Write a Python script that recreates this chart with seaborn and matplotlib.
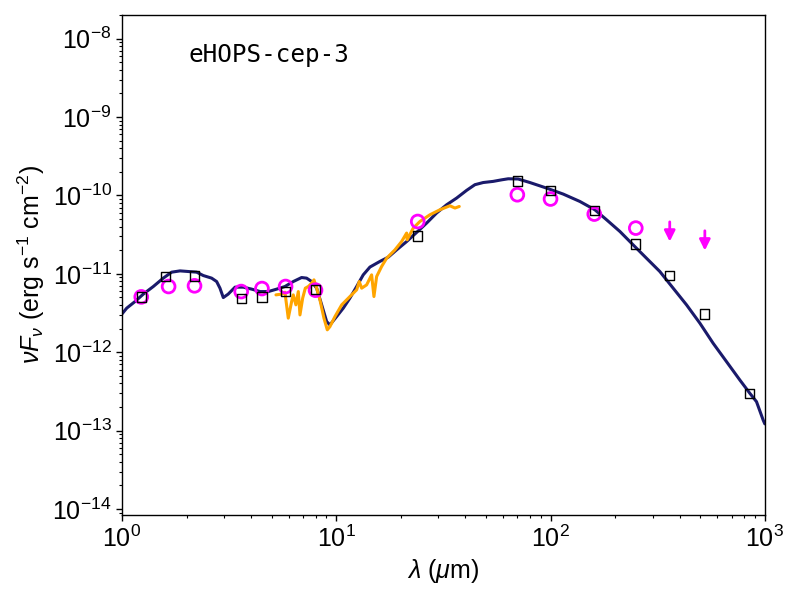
import matplotlib
matplotlib.use("Agg")
import matplotlib.pyplot as plt
import numpy as np
import pandas as pd
import seaborn as sns

# model SED (navy curve)
model_wave = [1.00, 1.052, 1.15, 1.257, 1.40, 1.558, 1.706, 1.865, 2.04, 2.23, 2.395, 2.62, 2.765,
              2.866, 2.97, 3.13, 3.37, 3.68, 4.03, 4.41, 4.82, 5.27, 5.76, 6.30, 6.89, 7.27, 7.68,
              8.10, 8.55, 9.02, 9.34, 10.04, 10.78, 11.58, 12.45, 13.36, 14.36, 15.99, 17.48, 19.13,
              21.30, 23.71, 26.41, 29.39, 32.74, 36.45, 40.58, 44.36, 48.5, 54.0, 59.1, 63.45, 70.6,
              80.1, 95.8, 114.6, 137.1, 161.0, 182.6, 210.7, 243.0, 280.5, 323.7, 373.5, 431.2,
              497.6, 574.1, 662.6, 764.5, 851.0, 914.7, 982.0, 1000.0]
model_flux = [3.08e-12, 3.65e-12, 4.43e-12, 5.51e-12, 6.89e-12, 8.81e-12, 1.05e-11, 1.09e-11,
              1.07e-11, 1.05e-11, 9.51e-12, 8.81e-12, 7.97e-12, 6.56e-12, 4.98e-12, 5.51e-12,
              6.76e-12, 6.76e-12, 6.38e-12, 5.94e-12, 5.94e-12, 6.38e-12, 6.89e-12, 7.97e-12,
              8.97e-12, 8.81e-12, 7.97e-12, 6.56e-12, 4.02e-12, 2.46e-12, 2.23e-12, 2.85e-12,
              3.65e-12, 4.90e-12, 6.89e-12, 9.70e-12, 1.22e-11, 1.44e-11, 1.63e-11, 2.02e-11,
              2.58e-11, 3.37e-11, 4.44e-11, 5.96e-11, 7.60e-11, 9.25e-11, 1.16e-10, 1.37e-10,
              1.46e-10, 1.51e-10, 1.58e-10, 1.63e-10, 1.62e-10, 1.46e-10, 1.24e-10, 1.04e-10,
              8.37e-11, 6.56e-11, 4.89e-11, 3.47e-11, 2.34e-11, 1.58e-11, 1.07e-11, 6.56e-12,
              4.02e-12, 2.35e-12, 1.30e-12, 7.59e-13, 4.43e-13, 3.00e-13, 2.34e-13, 1.37e-13,
              1.22e-13]

# IRS spectrum (orange)
irs_wave = [5.23, 5.56, 5.76, 5.97, 6.19, 6.30, 6.48, 6.65, 6.77, 6.97, 7.17, 7.40, 7.68, 7.87,
            8.10, 8.39, 8.76, 9.08, 9.34, 9.86, 10.6, 11.58, 12.45, 12.8, 13.14, 13.86, 14.62,
            14.99, 15.43, 16.28, 17.18, 18.78, 20.18, 21.3, 21.43, 22.87, 24.57, 27.35, 30.45,
            33.9, 35.8, 37.5]
irs_flux = [5.39e-12, 5.51e-12, 5.83e-12, 2.72e-12, 4.43e-12, 5.39e-12, 4.02e-12, 5.94e-12,
            2.99e-12, 4.90e-12, 6.56e-12, 6.89e-12, 7.60e-12, 8.38e-12, 6.56e-12, 4.66e-12,
            2.72e-12, 1.93e-12, 2.12e-12, 2.85e-12, 4.02e-12, 5.13e-12, 6.25e-12, 7.97e-12,
            6.56e-12, 7.23e-12, 9.70e-12, 5.13e-12, 9.23e-12, 1.24e-11, 1.58e-11, 2.02e-11,
            2.58e-11, 3.31e-11, 2.72e-11, 3.83e-11, 4.65e-11, 5.66e-11, 6.56e-11, 7.38e-11,
            6.90e-11, 7.23e-11]

# observed photometry (magenta circles)
obs_wave = [1.23, 1.65, 2.18, 3.6, 4.5, 5.8, 8.0, 24.0, 70.0, 100.0, 160.0, 250.0]
obs_flux = [5.08e-12, 6.89e-12, 7.03e-12, 5.94e-12, 6.49e-12, 6.89e-12, 6.19e-12, 4.65e-11,
            1.02e-10, 9.0e-11, 5.78e-11, 3.83e-11]

# upper limits (magenta arrows)
lim_wave = [360.0, 525.0]
lim_flux = [4.6e-11, 3.54e-11]

# model fluxes at the photometric bands (black squares)
syn_wave = [1.23, 1.6, 2.18, 3.6, 4.5, 5.8, 8.0, 24.0, 70.0, 100.0, 160.0, 250.0, 360.0, 525.0, 850.0]
syn_flux = [5.04e-12, 9.16e-12, 9.35e-12, 4.84e-12, 5.04e-12, 5.94e-12, 6.3e-12, 3.05e-11,
            1.525e-10, 1.147e-10, 6.37e-11, 2.39e-11, 9.6e-12, 3.08e-12, 3.0e-13]

source_name = "eHOPS-cep-3"

sns.set_style("white")
plt.rcParams["font.family"] = ["Liberation Sans", "DejaVu Sans"]
plt.rcParams["mathtext.fontset"] = "custom"
plt.rcParams["mathtext.rm"] = "Liberation Sans"
plt.rcParams["mathtext.it"] = "Liberation Sans:italic"
plt.rcParams["mathtext.bf"] = "Liberation Sans:bold"
plt.rcParams["text.color"] = "black"
plt.rcParams["axes.labelcolor"] = "black"
plt.rcParams["xtick.color"] = "black"
plt.rcParams["ytick.color"] = "black"

model = pd.DataFrame({"wave": model_wave, "flux": model_flux})
irs = pd.DataFrame({"wave": irs_wave, "flux": irs_flux})
obs = pd.DataFrame({"wave": obs_wave, "flux": obs_flux})
syn = pd.DataFrame({"wave": syn_wave, "flux": syn_flux})

fig, ax = plt.subplots(figsize=(8, 6), dpi=100)
fig.subplots_adjust(left=0.1525, right=0.956, bottom=0.1417, top=0.975)

sns.lineplot(data=model, x="wave", y="flux", sort=False, estimator=None,
             color="#1a1a6b", linewidth=2.2, ax=ax, zorder=2)
sns.lineplot(data=irs, x="wave", y="flux", sort=False, estimator=None,
             color="orange", linewidth=2.2, ax=ax, zorder=3)
sns.scatterplot(data=obs, x="wave", y="flux", marker="o", s=85, facecolor="none",
                edgecolor="magenta", linewidth=2, ax=ax, zorder=4)
sns.scatterplot(data=syn, x="wave", y="flux", marker="s", s=45, facecolor="none",
                edgecolor="black", linewidth=1, ax=ax, zorder=5)

# upper limits drawn as downward arrows starting at the limit value
for w, f in zip(lim_wave, lim_flux):
    ax.annotate("", xy=(w, f * 0.56), xytext=(w, f),
                arrowprops=dict(arrowstyle="-|>", color="magenta", lw=2,
                                mutation_scale=16, shrinkA=0, shrinkB=0),
                zorder=4)

ax.set_xscale("log")
ax.set_yscale("log")
ax.set_xlim(1, 1000)
ax.set_ylim(8.4e-15, 2.0e-8)

ax.set_xlabel(r"$\lambda$ ($\mu$m)", fontsize=18)
ax.set_ylabel(r"$\nu F_\nu$ (erg s$^{-1}$ cm$^{-2}$)", fontsize=18)
ax.tick_params(axis="both", which="major", labelsize=18, direction="out",
               length=4, width=1, bottom=True, left=True)
ax.tick_params(axis="both", which="minor", direction="out", length=2.5, width=0.8,
               bottom=True, left=True)
for side in ax.spines.values():
    side.set_color("black")
    side.set_linewidth(1)

ax.text(0.103, 0.92, source_name, transform=ax.transAxes, fontsize=17.5,
        family="DejaVu Sans Mono", va="center", ha="left")

fig.savefig("out.png", dpi=100)
